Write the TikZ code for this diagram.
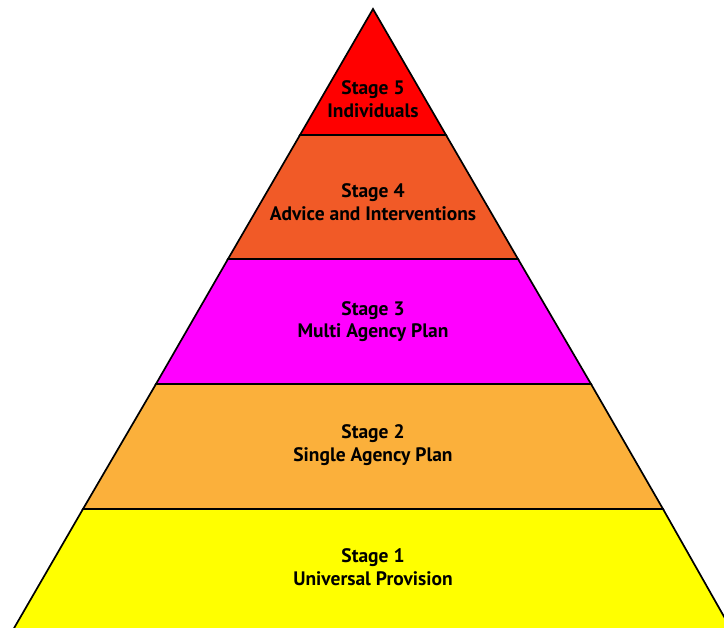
\documentclass[tikz,border=0pt]{standalone}
\usepackage{fontspec}
\setmainfont{PT Sans}
\definecolor{stfive}{HTML}{FF0000}
\definecolor{stfour}{HTML}{F15A27}
\definecolor{stthree}{HTML}{FF00FF}
\definecolor{sttwo}{HTML}{FBB03B}
\definecolor{stone}{HTML}{FFFF00}
\tikzset{
  band/.style={draw=black,line width=1.7pt,line join=miter},
  lab/.style={align=center,text=black,font=\fontsize{19.5}{22.7}\selectfont\bfseries,inner sep=0pt}
}
\begin{document}
\begin{tikzpicture}[x=1pt,y=-1pt]
\useasboundingbox (0,0) rectangle (724,628);
\clip (0,0) rectangle (724,628);
\fill[white] (0,0) rectangle (724,628);
\draw[band,fill=stone] (83,509) -- (663,509) -- (735,636) -- (9.5,636) -- cycle;
\draw[band,fill=sttwo] (156,384) -- (591,384) -- (663,509) -- (83,509) -- cycle;
\draw[band,fill=stthree] (228,259) -- (518,259) -- (591,384) -- (156,384) -- cycle;
\draw[band,fill=stfour] (300,135) -- (446,135) -- (518,259) -- (228,259) -- cycle;
\draw[band,fill=stfive] (373,9) -- (446,135) -- (300,135) -- cycle;
\node[lab] (s5) at (373,99) {Stage 5\\Individuals};
\node[lab] (s4) at (373,202) {Stage 4\\Advice and Interventions};
\node[lab] (s3) at (373,321.5) {Stage 3\\Multi Agency Plan};
\node[lab] (s2) at (373,445) {Stage 2\\Single Agency Plan};
\node[lab] (s1) at (373,567) {Stage 1\\Universal Provision};
\end{tikzpicture}
\end{document}
